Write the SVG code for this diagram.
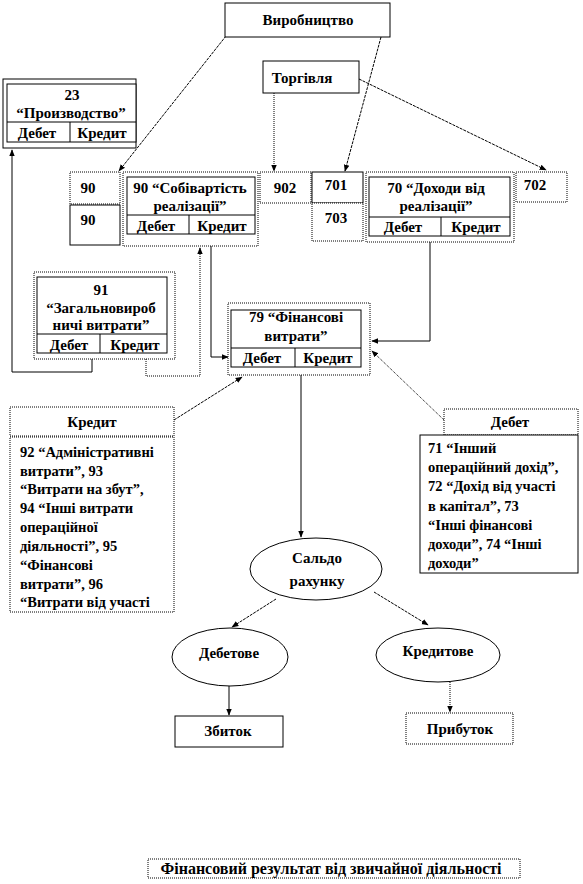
<svg xmlns="http://www.w3.org/2000/svg" width="583" height="884" viewBox="0 0 583 884" font-family="'Liberation Serif', 'DejaVu Serif', serif">
<style>
text{font-family:'Liberation Serif','DejaVu Serif',serif;font-weight:bold;font-size:15px;fill:#000;text-anchor:middle}
.l{text-anchor:start}
.s14{font-size:14.5px}
.s16{font-size:16px}
.b{fill:#fff;stroke:#000;stroke-width:1}
.d{fill:#fff;stroke:#000;stroke-width:1;stroke-dasharray:1,1}
.ln{fill:none;stroke:#000;stroke-width:1}
.ds{fill:none;stroke:#000;stroke-width:1;stroke-dasharray:3,1}
.dt{fill:none;stroke:#000;stroke-width:1;stroke-dasharray:1,1}
</style>
<defs>
<marker id="a" viewBox="0 0 10 10" refX="9" refY="5" markerWidth="7" markerHeight="7" orient="auto-start-reverse" markerUnits="userSpaceOnUse">
<path d="M0,1 L10,5 L0,9 z" fill="#000"/>
</marker>
</defs>

<g id="connectors">
<path class="ds" d="M226,36 L119,171" marker-end="url(#a)"/>
<path class="ds" d="M381,37 L345,171" marker-end="url(#a)"/>
<path class="dt" d="M274,93 L274,171" marker-end="url(#a)"/>
<path class="ds" d="M359,79 L546,170" marker-end="url(#a)"/>
<path class="ln" d="M92,359 L92,372 L12,372 L12,150" marker-end="url(#a)"/>
<path class="dt" d="M146,359 L146,376 L200,376 L200,248" marker-end="url(#a)"/>
<path class="ln" d="M211,246 L211,357 L228,357" marker-end="url(#a)"/>
<path class="ln" d="M430,242 L430,341 L372,341" marker-end="url(#a)"/>
<path class="ds" d="M174,420 L242,377" marker-end="url(#a)"/>
<path class="dt" d="M444,420 L372,351" marker-end="url(#a)"/>
<path class="ln" d="M301,375 L301,537" marker-end="url(#a)"/>
<path class="ds" d="M276,599 L232,627" marker-end="url(#a)"/>
<path class="ds" d="M374,592 L428,625" marker-end="url(#a)"/>
<path class="ln" d="M229,686 L229,715" marker-end="url(#a)"/>
<path class="dt" d="M450,678 L450,712" marker-end="url(#a)"/>
</g>

<g id="vyrobnytstvo">
<rect class="b" x="225" y="3" width="165" height="34"/>
<text x="308" y="25">Виробництво</text>
</g>

<g id="torhivlia">
<rect class="b" x="263" y="61" width="96" height="32"/>
<text x="302" y="83">Торгівля</text>
</g>

<g id="acc23">
<rect class="b" x="3" y="79" width="133" height="69" stroke="#666"/>
<rect class="b" x="7" y="84" width="129" height="58"/>
<line class="ln" x1="7" y1="122" x2="136" y2="122"/>
<line class="ln" x1="70" y1="122" x2="70" y2="142"/>
<text x="72" y="100">23</text>
<text x="71" y="118">“Производство”</text>
<text x="37" y="138">Дебет</text>
<text x="102" y="138">Кредит</text>
</g>

<g id="acc90a">
<rect class="d" x="70" y="172" width="50" height="32"/>
<text x="88" y="193">90</text>
</g>
<g id="acc90b">
<rect class="b" x="70" y="205" width="50" height="40"/>
<text x="88" y="225">90</text>
</g>

<g id="acc90">
<rect class="d" x="123" y="172" width="135" height="74"/>
<rect class="b" x="127" y="177" width="128" height="57"/>
<line class="ln" x1="127" y1="215" x2="255" y2="215"/>
<line class="ln" x1="189" y1="215" x2="189" y2="234"/>
<text x="190" y="193">90 “Собівартість</text>
<text x="190" y="211">реалізації”</text>
<text x="156" y="231">Дебет</text>
<text x="222" y="231">Кредит</text>
</g>

<g id="acc902">
<rect class="d" x="260" y="172" width="51" height="31"/>
<text x="285" y="193">902</text>
</g>

<g id="acc701">
<rect class="b" x="312" y="172" width="51" height="31"/>
<text x="336" y="190">701</text>
</g>
<g id="acc703">
<rect class="d" x="312" y="203" width="51" height="38"/>
<text x="336" y="223">703</text>
</g>

<g id="acc70">
<rect class="d" x="366" y="172" width="148" height="70"/>
<rect class="b" x="369" y="177" width="141" height="59"/>
<line class="ln" x1="369" y1="217" x2="510" y2="217"/>
<line class="ln" x1="441" y1="217" x2="441" y2="236"/>
<text x="436" y="193">70 “Доходи від</text>
<text x="436" y="211">реалізації”</text>
<text x="403" y="232">Дебет</text>
<text x="476" y="232">Кредит</text>
</g>

<g id="acc702">
<rect class="d" x="516" y="172" width="51" height="30"/>
<text x="535" y="190">702</text>
</g>

<g id="acc91">
<rect class="d" x="34" y="272" width="141" height="87"/>
<rect class="b" x="37" y="277" width="130" height="76"/>
<line class="ln" x1="37" y1="334" x2="167" y2="334"/>
<line class="ln" x1="100" y1="334" x2="100" y2="353"/>
<text x="101" y="295">91</text>
<text x="101" y="313">“Загальновироб</text>
<text x="101" y="330">ничі витрати”</text>
<text x="69" y="350">Дебет</text>
<text x="135" y="350">Кредит</text>
</g>

<g id="acc79">
<rect class="d" x="228" y="303" width="142" height="72"/>
<rect class="b" x="231" y="310" width="130" height="57"/>
<line class="ln" x1="231" y1="348" x2="361" y2="348"/>
<line class="ln" x1="295" y1="348" x2="295" y2="367"/>
<text x="296" y="322">79 “Фінансові</text>
<text x="296" y="341">витрати”</text>
<text x="262" y="363">Дебет</text>
<text x="328" y="363">Кредит</text>
</g>

<g id="kredyt">
<rect class="d" x="10" y="407" width="164" height="29"/>
<rect class="d" x="10" y="437" width="164" height="175"/>
<text x="92" y="427">Кредит</text>
<text class="l s14" x="20" y="457">92 “Адміністративні</text>
<text class="l s14" x="20" y="476">витрати”, 93</text>
<text class="l s14" x="20" y="494">“Витрати на збут”,</text>
<text class="l s14" x="20" y="513">94 “Інші  витрати</text>
<text class="l s14" x="20" y="532">операційної</text>
<text class="l s14" x="20" y="551">діяльності”,  95</text>
<text class="l s14" x="20" y="570">“Фінансові</text>
<text class="l s14" x="20" y="589">витрати”,  96</text>
<text class="l s14" x="20" y="607">“Витрати від участі</text>
</g>

<g id="debet">
<rect class="d" x="444" y="409" width="134" height="26"/>
<rect class="b" x="420" y="435" width="158" height="138"/>
<text x="510" y="427">Дебет</text>
<text class="l s14" x="428" y="453">71 “Інший</text>
<text class="l s14" x="428" y="472">операційний дохід”,</text>
<text class="l s14" x="428" y="491">72 “Дохід  від участі</text>
<text class="l s14" x="428" y="511">в капітал”,  73</text>
<text class="l s14" x="428" y="530">“Інші  фінансові</text>
<text class="l s14" x="428" y="549">доходи”, 74 “Інші</text>
<text class="l s14" x="428" y="568">доходи”</text>
</g>

<g id="saldo">
<ellipse class="b" cx="316" cy="569" rx="66" ry="31"/>
<text x="317" y="563">Сальдо</text>
<text x="317" y="586">рахунку</text>
</g>

<g id="debetove">
<ellipse class="b" cx="230" cy="657" rx="58" ry="29"/>
<text x="229" y="658">Дебетове</text>
</g>

<g id="kredytove">
<ellipse class="b" cx="438" cy="655" rx="62" ry="27"/>
<text x="438" y="656">Кредитове</text>
</g>

<g id="zbytok">
<rect class="b" x="175" y="716" width="108" height="31"/>
<text x="228" y="736">Збиток</text>
</g>

<g id="prybutok">
<rect class="d" x="406" y="713" width="107" height="31"/>
<text x="460" y="734">Прибуток</text>
</g>

<g id="result">
<rect class="d" x="148" y="859" width="372" height="19"/>
<text class="s16" x="331" y="874">Фінансовий результат від звичайної діяльності</text>
</g>
</svg>
